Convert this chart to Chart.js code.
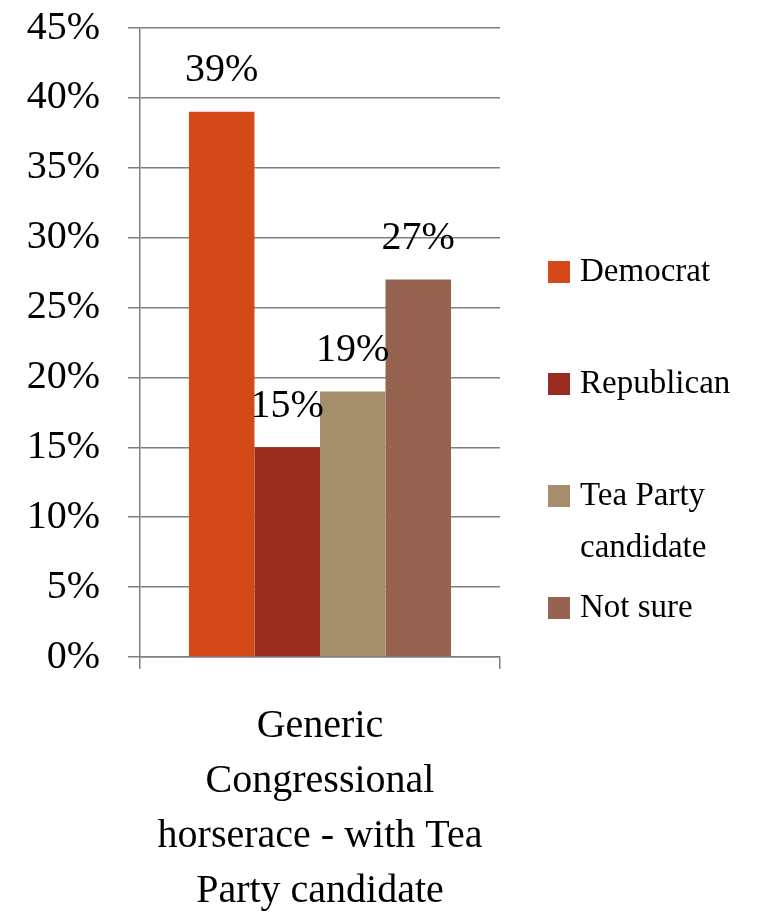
<!DOCTYPE html>
<html>
<head>
<meta charset="utf-8">
<script src="https://cdn.jsdelivr.net/npm/chart.js@4"></script>
<style>
	html, body { margin: 0; padding: 0; background: #ffffff; }
	#wrap { width: 767px; height: 914px; }
</style>
</head>
<body>
<div id="wrap"><canvas id="chart" width="767" height="914"></canvas></div>
<script>
const categories = [['Generic', 'Congressional', 'horserace - with Tea', 'Party candidate']]
const seriesNames = ['Democrat', 'Republican', 'Tea Party candidate', 'Not sure']
const seriesValues = [[39], [15], [19], [27]]
const seriesColors = ['#D34A18', '#9A2C1F', '#A58E6B', '#956350']
const yTicks = [0, 5, 10, 15, 20, 25, 30, 35, 40, 45]

const fontFamily = '"Liberation Serif", "Times New Roman", serif'
const axisGray = '#7f7f7f'

// value labels above the bars
const barLabels = {
	id: 'barLabels',
	afterDatasetsDraw(chart) {
		const ctx = chart.ctx
		ctx.save()
		ctx.font = `40px ${fontFamily}`
		ctx.fillStyle = '#000000'
		ctx.textAlign = 'center'
		ctx.textBaseline = 'middle'
		chart.data.datasets.forEach((ds, i) => {
			chart.getDatasetMeta(i).data.forEach((bar, j) => {
				ctx.fillText(ds.data[j] + '%', bar.x, bar.y - 41)
			})
		})
		ctx.restore()
	}
}

// legend on the right, one fixed slot per series
const sideLegend = {
	id: 'sideLegend',
	afterDraw(chart) {
		const ctx = chart.ctx
		const maxWidth = 185
		ctx.save()
		ctx.font = `33px ${fontFamily}`
		ctx.textBaseline = 'middle'
		ctx.textAlign = 'left'
		chart.data.datasets.forEach((ds, i) => {
			const cy = 272 + 112 * i
			ctx.fillStyle = ds.backgroundColor
			ctx.fillRect(548, cy - 11, 22, 22)
			ctx.fillStyle = '#000000'
			const lines = []
			let line = ''
			ds.label.split(' ').forEach(w => {
				const test = line ? line + ' ' + w : w
				if (line && ctx.measureText(test).width > maxWidth) {
					lines.push(line)
					line = w
				} else {
					line = test
				}
			})
			lines.push(line)
			lines.forEach((l, k) => ctx.fillText(l, 580, cy + k * 52))
		})
		ctx.restore()
	}
}

const ctx = document.getElementById('chart').getContext('2d')
new Chart(ctx, {
	type: 'bar',
	data: {
		labels: categories,
		datasets: seriesNames.map((name, i) => ({
			label: name,
			data: seriesValues[i],
			backgroundColor: seriesColors[i],
			borderWidth: 0,
			barPercentage: 1,
			categoryPercentage: 0.728,
		})),
	},
	options: {
		responsive: false,
		animation: false,
		devicePixelRatio: 1,
		layout: {
			padding: { left: 0, right: 267, top: 28, bottom: 0 },
		},
		plugins: {
			legend: { display: false },
			tooltip: { enabled: false },
		},
		scales: {
			x: {
				grid: {
					offset: true,
					drawOnChartArea: false,
					drawTicks: true,
					tickLength: 12,
					color: axisGray,
					lineWidth: 1.5,
				},
				border: { display: true, color: axisGray, width: 1.5 },
				ticks: {
					color: '#000000',
					font: { family: fontFamily, size: 40, lineHeight: 1.375 },
					padding: 30,
					maxRotation: 0,
					autoSkip: false,
				},
				afterFit(scale) {
					scale.height = 257
					scale.paddingLeft = 0
					scale.paddingRight = 0
				},
			},
			y: {
				min: 0,
				max: 45,
				afterBuildTicks(scale) { scale.ticks = yTicks.map(v => ({ value: v })) },
				grid: {
					color: axisGray,
					lineWidth: 1.5,
					drawTicks: true,
					tickLength: 12,
				},
				border: { display: true, color: axisGray, width: 1.5 },
				ticks: {
					color: '#000000',
					font: { family: fontFamily, size: 40 },
					padding: 28,
					callback: v => v + '%',
				},
				afterFit(scale) {
					scale.width = 140
					scale.paddingTop = 0
					scale.paddingBottom = 0
				},
			},
		},
	},
	plugins: [barLabels, sideLegend],
})
</script>
</body>
</html>
